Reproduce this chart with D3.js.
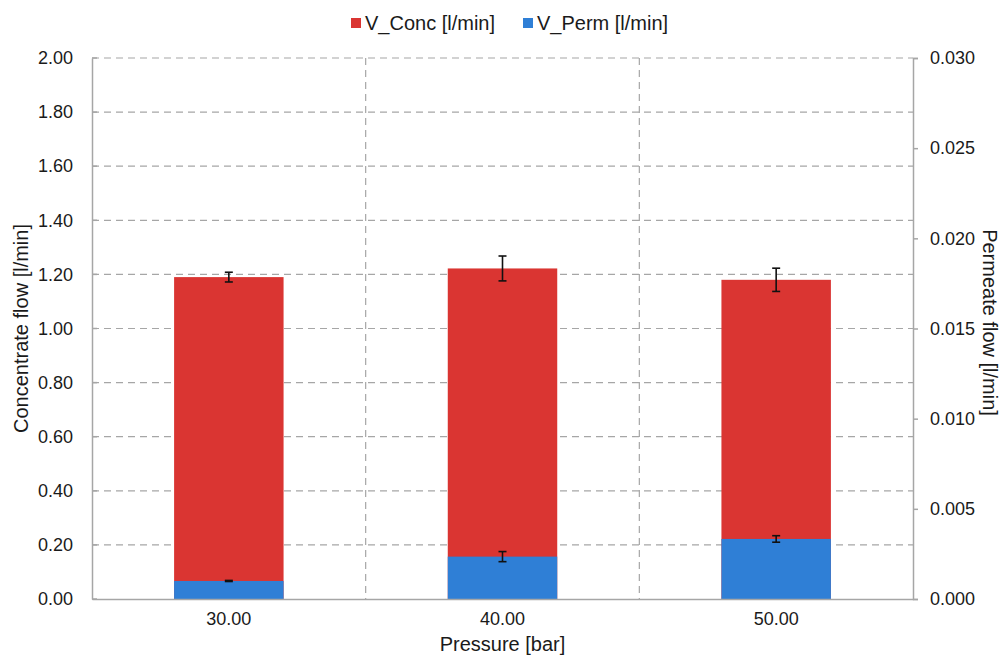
<!DOCTYPE html>
<html>
<head>
<meta charset="utf-8">
<script src="https://cdn.jsdelivr.net/npm/d3@7"></script>
<style>
  html, body { margin: 0; padding: 0; background: #fff; }
  svg { display: block; font-family: "Liberation Sans", Arial, sans-serif; }
</style>
</head>
<body>
<svg id="chart" width="1002" height="656"></svg>
<script>
// Pressure levels (x categories)
const pressures = ["30.00", "40.00", "50.00"];
// Concentrate flow [l/min] with standard deviation (left axis)
const concFlow = [1.19, 1.222, 1.18];
const concErr = [0.018, 0.046, 0.043];
// Permeate flow [l/min] with standard deviation (right axis)
const permFlow = [0.0010, 0.00235, 0.00333];
const permErr = [0.00003, 0.00028, 0.00018];
// Axis tick values
const leftTicks = [0, 0.2, 0.4, 0.6, 0.8, 1.0, 1.2, 1.4, 1.6, 1.8, 2.0];
const rightTicks = [0, 0.005, 0.010, 0.015, 0.020, 0.025, 0.030];

const svg = d3.select("#chart");
const margin = { left: 92, right: 89, top: 58, bottom: 57 };
const W = 1002, H = 656;
const x0 = margin.left, x1 = W - margin.right;
const y0 = H - margin.bottom, y1 = margin.top;

const x = d3.scaleBand().domain(pressures).range([x0, x1]).paddingInner(0).paddingOuter(0);
const yL = d3.scaleLinear().domain([0, 2]).range([y0, y1]);
const yR = d3.scaleLinear().domain([0, 0.03]).range([y0, y1]);

const gridColor = "#a6a6a6";
const textColor = "#1a1a1a";
const red = "#da3532";
const blue = "#2f7fd6";

// horizontal gridlines
svg.append("g").selectAll("line").data(leftTicks.filter(d => d > 0)).join("line")
  .attr("x1", x0).attr("x2", x1)
  .attr("y1", d => yL(d)).attr("y2", d => yL(d))
  .attr("stroke", gridColor).attr("stroke-width", 1.2).attr("stroke-dasharray", "7,5");

// vertical gridlines between categories
svg.append("g").selectAll("line").data(pressures.slice(1)).join("line")
  .attr("x1", d => x(d)).attr("x2", d => x(d))
  .attr("y1", y1).attr("y2", y0)
  .attr("stroke", gridColor).attr("stroke-width", 1.2).attr("stroke-dasharray", "7,5");

const barW = x.bandwidth() * 0.4;
const bx = d => x(d) + (x.bandwidth() - barW) / 2;

// concentrate bars
svg.append("g").selectAll("rect").data(pressures).join("rect")
  .attr("x", d => bx(d)).attr("width", barW)
  .attr("y", (d, i) => yL(concFlow[i])).attr("height", (d, i) => y0 - yL(concFlow[i]))
  .attr("fill", red);

// permeate bars
svg.append("g").selectAll("rect").data(pressures).join("rect")
  .attr("x", d => bx(d)).attr("width", barW)
  .attr("y", (d, i) => yR(permFlow[i])).attr("height", (d, i) => y0 - yR(permFlow[i]))
  .attr("fill", blue);

// error bars
function errorBars(vals, errs, scale) {
  const g = svg.append("g").attr("stroke", "#111").attr("stroke-width", 1.6);
  pressures.forEach((p, i) => {
    const cx = x(p) + x.bandwidth() / 2;
    const top = scale(vals[i] + errs[i]), bot = scale(vals[i] - errs[i]);
    g.append("line").attr("x1", cx).attr("x2", cx).attr("y1", top).attr("y2", bot);
    g.append("line").attr("x1", cx - 4).attr("x2", cx + 4).attr("y1", top).attr("y2", top);
    g.append("line").attr("x1", cx - 4).attr("x2", cx + 4).attr("y1", bot).attr("y2", bot);
  });
}
errorBars(concFlow, concErr, yL);
errorBars(permFlow, permErr, yR);

// axes
const axisL = svg.append("g").attr("transform", `translate(${x0},0)`)
  .call(d3.axisLeft(yL).tickValues(leftTicks).tickFormat(d3.format(".2f")).tickSize(0).tickPadding(19));
const axisR = svg.append("g").attr("transform", `translate(${x1},0)`)
  .call(d3.axisRight(yR).tickValues(rightTicks).tickFormat(d3.format(".3f")).tickSize(5).tickPadding(12));
const axisB = svg.append("g").attr("transform", `translate(0,${y0})`)
  .call(d3.axisBottom(x).tickSize(0).tickPadding(13));

[axisL, axisR, axisB].forEach(a => {
  a.select(".domain").attr("stroke", gridColor).attr("stroke-width", 1.5);
  a.selectAll(".tick line").attr("stroke", gridColor).attr("stroke-width", 1.5);
  a.selectAll("text").attr("font-size", 18).attr("fill", textColor)
    .attr("font-family", "\"Liberation Sans\", Arial, sans-serif");
});
// short ticks on the left axis pointing into the plot
svg.append("g").selectAll("line").data(leftTicks).join("line")
  .attr("x1", x0).attr("x2", x0 + 5)
  .attr("y1", d => yL(d)).attr("y2", d => yL(d))
  .attr("stroke", gridColor).attr("stroke-width", 1.5);

// axis titles
svg.append("text").attr("x", (x0 + x1) / 2).attr("y", 651).attr("text-anchor", "middle")
  .attr("font-size", 20).attr("fill", textColor).text("Pressure [bar]");
svg.append("text").attr("transform", `translate(28,${(y0 + y1) / 2}) rotate(-90)`)
  .attr("text-anchor", "middle").attr("font-size", 20).attr("fill", textColor).text("Concentrate flow [l/min]");
svg.append("text").attr("transform", `translate(983,${(y0 + y1) / 2 - 6}) rotate(90)`)
  .attr("text-anchor", "middle").attr("font-size", 20).attr("fill", textColor).text("Permeate flow [l/min]");

// legend
const legend = [
  { label: "V_Conc [l/min]", color: red, x: 351 },
  { label: "V_Perm [l/min]", color: blue, x: 523 }
];
const lg = svg.append("g").selectAll("g").data(legend).join("g")
  .attr("transform", d => `translate(${d.x},0)`);
lg.append("rect").attr("x", 0).attr("y", 18).attr("width", 10).attr("height", 10).attr("fill", d => d.color);
lg.append("text").attr("x", 14).attr("y", 30).attr("font-size", 20).attr("fill", textColor).text(d => d.label);
</script>
</body>
</html>
